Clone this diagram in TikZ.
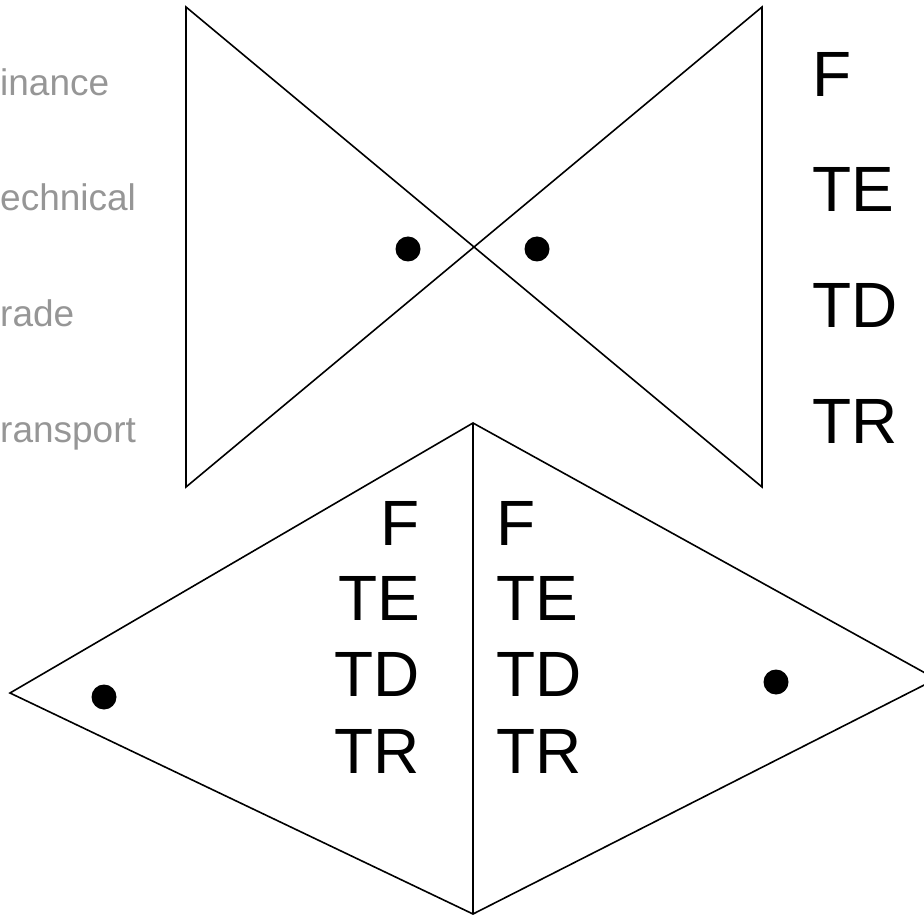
\documentclass[tikz,border=0pt]{standalone}
\usepackage{fontspec}
\setmainfont{Liberation Sans}
\definecolor{labelgray}{RGB}{150,150,150}
\begin{document}
\begin{tikzpicture}[x=1pt,y=-1pt,
  shape line/.style={line width=1.6pt, line join=miter},
  dotmark/.style={fill=black, draw=none},
  graylabel/.style={inner sep=0pt, anchor=base west, text=labelgray, font=\fontsize{37}{40}\selectfont},
  biglabel/.style={inner sep=0pt, font=\fontsize{64}{70}\selectfont},
]
\useasboundingbox (0,0) rectangle (924,917);
% bowtie
\coordinate (btl) at (186,7);
\coordinate (bbl) at (186,487);
\coordinate (btr) at (762,7);
\coordinate (bbr) at (762,487);
\draw[shape line] (btl) -- (bbr) -- (btr) -- (bbl) -- cycle;
% lower diamond
\coordinate (dt) at (473,423);
\coordinate (dl) at (10,693);
\coordinate (db) at (473,914);
\coordinate (dr) at (936,679);
\draw[shape line] (dt) -- (dl) -- (db) -- (dr) -- cycle;
\draw[shape line] (dt) -- (db);
% dots
\fill[dotmark] (408,249) circle (12.5);
\fill[dotmark] (537,249) circle (12.5);
\fill[dotmark] (104,697) circle (12.5);
\fill[dotmark] (776,682) circle (12.5);
% left gray labels
\node[graylabel] (lf) at (0,96) {inance};
\node[graylabel] (lte) at (0,211) {echnical};
\node[graylabel] (ltd) at (0,327) {rade};
\node[graylabel] (ltr) at (0,442) {ransport};
% right labels
\node[biglabel, anchor=base west] (rf) at (812,97) {F};
\node[biglabel, anchor=base west] (rte) at (812,212) {TE};
\node[biglabel, anchor=base west] (rtd) at (812,328) {TD};
\node[biglabel, anchor=base west] (rtr) at (812,443) {TR};
% lower left column
\node[biglabel, anchor=base east] (af) at (420,545) {F};
\node[biglabel, anchor=base east] (ate) at (420,620) {TE};
\node[biglabel, anchor=base east] (atd) at (420,696) {TD};
\node[biglabel, anchor=base east] (atr) at (420,773) {TR};
% lower right column
\node[biglabel, anchor=base west] (bf) at (496,545) {F};
\node[biglabel, anchor=base west] (bte) at (496,620) {TE};
\node[biglabel, anchor=base west] (btd) at (496,696) {TD};
\node[biglabel, anchor=base west] (btrr) at (496,773) {TR};
\end{tikzpicture}
\end{document}
